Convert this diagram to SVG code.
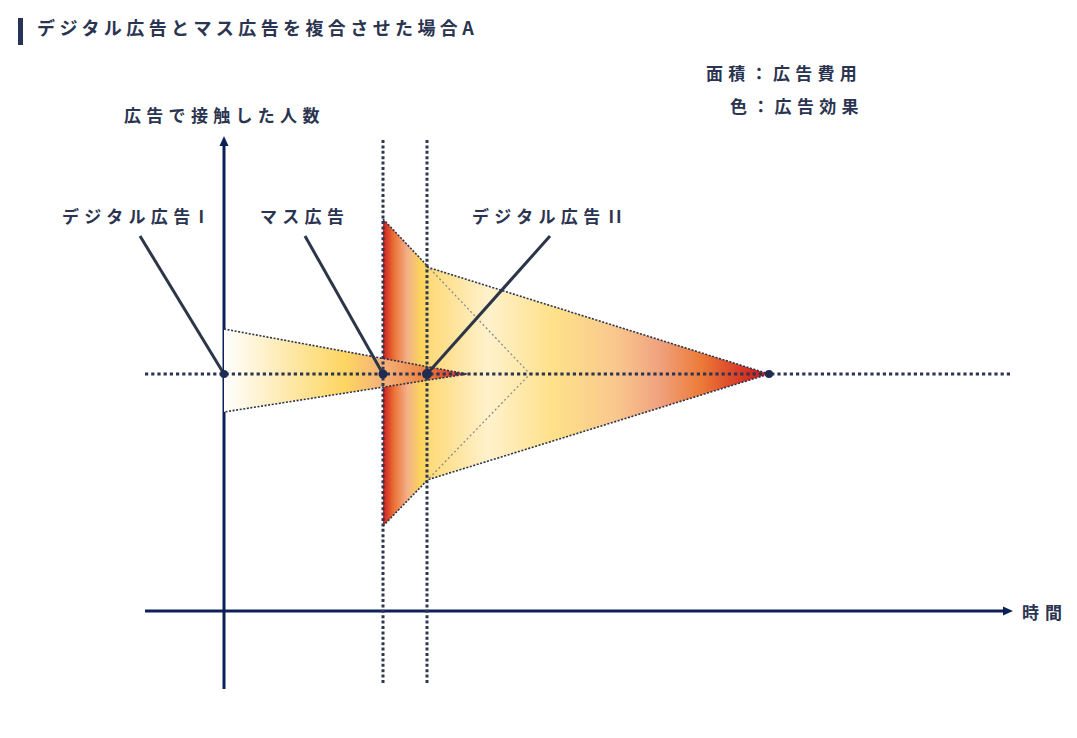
<svg xmlns="http://www.w3.org/2000/svg" width="1077" height="738" viewBox="0 0 1077 738">
<style>
text{font-family:"Noto Sans CJK JP","Noto Sans",sans-serif;font-weight:700;fill:#2b3450;font-size:17px;letter-spacing:5.3px}
.outline{fill:none;stroke:#2b3450;stroke-width:1.6;stroke-dasharray:2 1.6}
.hidden{fill:none;stroke:#8a8a8a;stroke-width:1.3;stroke-dasharray:2 2.5}
.axis{stroke:#0c2157;stroke-width:3;fill:none}
.guide{stroke:#2f384e;stroke-width:3;stroke-dasharray:3 2.4;fill:none}
.center{stroke:#2b3450;stroke-width:3.2;stroke-dasharray:3.2 3;fill:none}
.leader{stroke:#2d3648;stroke-width:3;fill:none}
.dot{fill:#1e2c52}
</style>
<defs>
<linearGradient id="gD1" gradientUnits="userSpaceOnUse" x1="224" y1="0" x2="467" y2="0">
<stop offset="0" stop-color="#ffffff"/>
<stop offset="0.5" stop-color="#fdd560"/>
<stop offset="0.65" stop-color="#f5b27a"/>
<stop offset="0.82" stop-color="#ee8545"/>
<stop offset="1" stop-color="#d0201f"/>
</linearGradient>
<linearGradient id="gM" gradientUnits="userSpaceOnUse" x1="383" y1="0" x2="427" y2="0">
<stop offset="0" stop-color="#cc1e1e"/>
<stop offset="0.25" stop-color="#ec7135"/>
<stop offset="0.55" stop-color="#f3b08a"/>
<stop offset="0.85" stop-color="#fdd35c"/>
<stop offset="1" stop-color="#fed76a"/>
</linearGradient>
<linearGradient id="gD2" gradientUnits="userSpaceOnUse" x1="427" y1="0" x2="769" y2="0">
<stop offset="0" stop-color="#fed976"/>
<stop offset="0.18" stop-color="#fff1cc"/>
<stop offset="0.37" stop-color="#fee189"/>
<stop offset="0.55" stop-color="#f9c88e"/>
<stop offset="0.68" stop-color="#f0a27e"/>
<stop offset="0.8" stop-color="#ec7b38"/>
<stop offset="0.92" stop-color="#d83a26"/>
<stop offset="1" stop-color="#c8161e"/>
</linearGradient>
</defs>
<rect x="0" y="0" width="1077" height="738" fill="#ffffff"/>

<g id="title">
<rect x="18" y="18" width="5" height="27" fill="#27345a"/>
<text x="37" y="35" style="font-size:18px;letter-spacing:4.4px">デジタル広告とマス広告を複合させた場合A</text>
</g>

<g id="legend">
<text x="706" y="80">面積：広告費用</text>
<text x="730" y="113">色：広告効果</text>
</g>

<g id="axes">
<line class="axis" x1="224" y1="689" x2="224" y2="145"/>
<polygon points="224,136 219.5,146 228.5,146" fill="#0c2157"/>
<line class="axis" x1="145" y1="611" x2="1004" y2="611"/>
<polygon points="1013,611 1003,606.5 1003,615.5" fill="#0c2157"/>
<text x="124" y="122">広告で接触した人数</text>
<text x="1022" y="619" style="letter-spacing:6px">時間</text>
</g>

<g id="mass-ad">
<polygon points="383,219 530,374 383,526" fill="url(#gM)"/>
</g>

<g id="digital-ad-2">
<polygon points="427,267 769,374 427,480" fill="url(#gD2)"/>
<polyline class="outline" points="427,267 769,374 427,480"/>
</g>

<g id="mass-ad-outline">
<polyline class="outline" points="383,219 427,265.5"/>
<polyline class="outline" points="383,526 427,480.5"/>
<polyline class="hidden" points="427,265.5 530,374 427,480.5"/>
</g>

<g id="digital-ad-1">
<polygon points="224,329 467,374 224,412" fill="url(#gD1)"/>
<polyline class="outline" points="224,329 467,374 224,412"/>
</g>

<g id="connectors">
<line class="guide" x1="383" y1="140" x2="383" y2="685"/>
<line class="guide" x1="427" y1="140" x2="427" y2="685"/>
<line class="center" x1="145" y1="374" x2="1013" y2="374"/>
<line class="leader" x1="140" y1="236" x2="224" y2="374"/>
<line class="leader" x1="305" y1="236" x2="383" y2="374"/>
<line class="leader" x1="550" y1="236" x2="427" y2="374"/>
</g>

<g id="points">
<circle class="dot" cx="224" cy="374" r="4"/>
<circle class="dot" cx="383" cy="374" r="4.5"/>
<circle class="dot" cx="427" cy="374" r="5"/>
<circle class="dot" cx="769" cy="374" r="4"/>
</g>

<g id="labels">
<text x="62" y="223">デジタル広告<tspan dx="3">I</tspan></text>
<text x="260" y="223">マス広告</text>
<text x="472" y="223">デジタル広告<tspan dx="3" style="letter-spacing:2px">II</tspan></text>
</g>
</svg>
